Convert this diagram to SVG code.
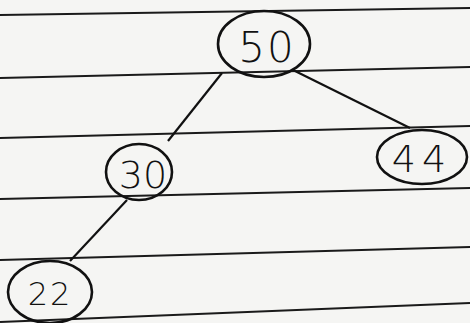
<svg xmlns="http://www.w3.org/2000/svg" width="470" height="323" viewBox="0 0 470 323">
<style>
.rule{stroke:#1a1a1a;stroke-width:2;fill:none}
.node ellipse{fill:none;stroke:#111;stroke-width:2.6}
.node text{font-family:"DejaVu Sans","Liberation Sans",sans-serif;font-weight:300;fill:#111;text-anchor:middle}
.edge{stroke:#111;stroke-width:2.2;fill:none}
</style>
<rect width="470" height="323" fill="#f5f5f3"/>
<g id="paper">
<line class="rule" x1="0" y1="15" x2="470" y2="8"/>
<line class="rule" x1="0" y1="78" x2="470" y2="67"/>
<line class="rule" x1="0" y1="138" x2="470" y2="126"/>
<line class="rule" x1="0" y1="199" x2="470" y2="188"/>
<line class="rule" x1="0" y1="260" x2="470" y2="247"/>
<line class="rule" x1="0" y1="322" x2="470" y2="303"/>
</g>
<g id="connectors">
<line class="edge" x1="222" y1="73" x2="168" y2="141"/>
<line class="edge" x1="293" y1="70" x2="410" y2="128"/>
<line class="edge" x1="127" y1="200" x2="70" y2="261"/>
</g>
<g id="n50" class="node">
<ellipse cx="264" cy="44" rx="46" ry="33"/>
<text x="267" y="62" font-size="42" letter-spacing="2">50</text>
</g>
<g id="n30" class="node">
<ellipse cx="139" cy="172" rx="33" ry="28"/>
<text x="143" y="188" font-size="38">30</text>
</g>
<g id="n44" class="node">
<ellipse cx="422" cy="157" rx="45" ry="27"/>
<text x="422" y="172" font-size="38" letter-spacing="6">44</text>
</g>
<g id="n22" class="node">
<ellipse cx="50" cy="292" rx="42" ry="31"/>
<text x="50" y="305" font-size="32" letter-spacing="2">22</text>
</g>
</svg>
